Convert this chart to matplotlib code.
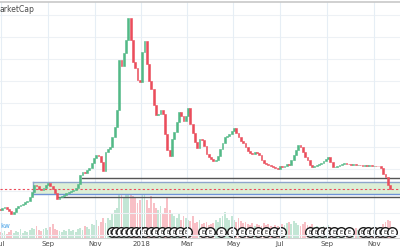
import matplotlib
matplotlib.use("Agg")
import matplotlib.pyplot as plt
import matplotlib.dates as mdates
import pandas as pd
import numpy as np

# 3-day candles, total market cap (approx, billions)
start = "2017-06-30"
closes = [114, 123, 127, 118, 109, 95, 105, 123, 132, 136,
          141, 150, 155, 173, 195, 227, 223, 209, 205, 214,
          227, 236, 223, 209, 191, 164, 173, 177, 182, 191,
          195, 200, 205, 214, 232, 273, 286, 282, 295, 305,
          327, 350, 364, 359, 332, 291, 377, 391, 400, 445,
          491, 568, 795, 770, 827, 886, 986, 886, 786, 759,
          705, 695, 832, 882, 777, 700, 664, 591, 545, 550,
          568, 550, 459, 386, 359, 436, 468, 514, 559, 541,
          518, 541, 577, 505, 464, 423, 395, 436, 432, 405,
          368, 355, 345, 336, 341, 359, 391, 418, 445, 450,
          459, 473, 486, 464, 445, 427, 418, 400, 382, 373,
          370, 377, 373, 364, 341, 327, 323, 318, 314, 309,
          305, 300, 314, 309, 314, 323, 318, 341, 364, 386,
          409, 400, 377, 355, 341, 318, 309, 314, 318, 323,
          327, 336, 345, 355, 332, 309, 311, 314, 318, 323,
          327, 323, 321, 318, 322, 318, 319, 317, 315, 318,
          314, 316, 313, 315, 314, 312, 305, 277, 264, 227,
          209]
first_open = 118

volumes = [6, 5, 7, 4, 6, 8, 5, 7, 6, 9, 5, 7, 6, 8, 10,
           9, 12, 8, 7, 9, 10, 8, 11, 14, 9, 8, 7, 6, 8, 7, 9,
           7, 8, 6, 9, 10, 8, 12, 11, 9, 14, 13, 18, 12, 16, 20,
           15, 20, 18, 25, 28, 30, 45, 50, 40, 55, 48,
           52, 42, 40, 35, 38, 55, 45, 38, 30, 42,
           35, 30, 28, 32, 25, 30, 40, 28, 24, 22, 20, 25, 18, 22,
           20, 18, 17, 22, 15, 16, 18, 14, 15, 16, 13, 14, 15, 18, 16, 20, 22, 26, 20, 18,
           22, 18, 16, 20, 17, 15, 16, 14, 13, 15, 12, 14, 13, 12, 15, 13, 14, 12, 11, 13,
           12, 11, 14, 13, 15, 16, 14, 17, 15, 13, 12, 14, 16, 13, 12, 14, 11, 12, 10, 11,
           12, 10, 13, 11, 9, 10, 8, 9, 10, 8, 7, 9, 8, 9, 10, 8, 7, 9, 8, 7,
           8, 7, 9, 8, 7, 8, 14, 16, 18, 17]

event_dates = ["2017-11-23", "2017-11-29", "2017-12-06", "2017-12-12", "2017-12-19",
               "2017-12-25", "2017-12-31", "2018-01-06", "2018-01-14", "2018-01-20",
               "2018-01-28", "2018-02-05", "2018-02-13", "2018-02-20", "2018-03-01",
               "2018-03-23", "2018-04-01", "2018-04-15", "2018-04-29", "2018-05-12",
               "2018-05-23", "2018-06-02", "2018-06-13", "2018-06-23", "2018-07-03",
               "2018-08-09", "2018-08-17", "2018-08-25", "2018-09-02", "2018-09-10",
               "2018-09-19", "2018-09-29", "2018-10-17", "2018-10-24", "2018-11-01",
               "2018-11-09", "2018-11-16", "2018-11-25"]

month_ticks = ["2017-07-01", "2017-09-01", "2017-11-01", "2018-01-01", "2018-03-01",
               "2018-05-01", "2018-07-01", "2018-09-01", "2018-11-01"]
month_labels = ["Jul", "Sep", "Nov", "2018", "Mar", "May", "Jul", "Sep", "Nov"]

# drawn levels
zone_lo, zone_hi, zone_start = 186, 241, "2017-08-12"
level_top, level_top_start = 259, "2017-10-15"
level_low, level_low_start = 173, "2017-09-14"
last_price = 209

GREEN = "#53b987"
RED = "#eb4d5c"

dates = pd.date_range(start, periods=len(closes), freq="3D")
x = mdates.date2num(dates)
opens = np.array([first_open] + closes[:-1])
cl = np.array(closes)
up = cl >= opens
cols = np.where(up, GREEN, RED)

fig = plt.figure(figsize=(4, 2.5), dpi=100)
ax2 = fig.add_axes([0, 0.048, 1, 0.944])
ax = fig.add_axes([0, 0.048, 1, 0.944], sharex=ax2)
ax.set_zorder(2)
ax.patch.set_visible(False)

x0 = mdates.date2num(pd.Timestamp("2017-07-01"))
ax.set_xlim(x0 - 0.8, x0 + 522)
ax.set_ylim(-13.6, 1059)

# grid
for v in range(0, 1001, 100):
    ax.axhline(v, color="#edf1f5", lw=0.8, zorder=0)
for d in month_ticks:
    ax.axvline(mdates.date2num(pd.Timestamp(d)), color="#e6eef5", lw=0.8, zorder=0)

# volume
ax2.bar(x, volumes, width=2.4, color=cols, alpha=0.35, lw=0)
ax2.set_ylim(0, 236)
ex = mdates.date2num(pd.to_datetime(event_dates))
ax2.scatter(ex, [6] * len(ex), s=48, facecolor="white", edgecolor="#1a1a1a", lw=1.0, zorder=5)
for e in ex:
    ax2.text(e, 6, "E", fontsize=3.5, ha="center", va="center", color="#1a1a1a", zorder=6)
ax2.axis("off")

# levels and zone
xr = x0 + 530
zs = mdates.date2num(pd.Timestamp(zone_start))
ax.fill_between([zs, xr], zone_lo, zone_hi, color="#dcefd6", zorder=1, lw=0)
ax.plot([zs, xr], [zone_hi, zone_hi], color="#8ea6cc", lw=1, zorder=1.5)
ax.plot([zs, xr], [zone_lo, zone_lo], color="#6f93d6", lw=1, zorder=1.5)
ax.plot([zs, zs], [zone_lo, zone_hi], color="#8ea6cc", lw=1, zorder=1.5)
ax.plot([mdates.date2num(pd.Timestamp(level_top_start)), xr], [level_top] * 2,
        color="#555555", lw=1, zorder=1.5)
ax.plot([mdates.date2num(pd.Timestamp(level_low_start)), xr], [level_low] * 2,
        color="#555555", lw=1, zorder=1.5)
ax.axhline(last_price, color=RED, lw=0.8, ls=(0, (2, 2)), zorder=1.6)

# candles
lo = np.minimum(opens, cl)
hi = np.maximum(opens, cl)
ax.bar(x, hi - lo, bottom=lo, width=2.4, color=cols, edgecolor=cols, lw=0.4, zorder=3)

ax.set_xticks(mdates.date2num(pd.to_datetime(month_ticks)))
ax.set_xticklabels(month_labels, fontsize=5, color="#4a4a4a")
ax.tick_params(axis="x", length=0, pad=2.5)
ax.set_yticks([])
for s in ["left", "right"]:
    ax.spines[s].set_visible(False)
ax.spines["top"].set_color("#c8c8c8")
ax.spines["top"].set_linewidth(1.2)
ax.spines["bottom"].set_color("#d0d0d0")
ax.spines["bottom"].set_linewidth(0.8)

fig.text(0.0, 0.963, "arketCap", fontsize=5.5, color="#4a4a4a", ha="left", va="center")
fig.text(0.0, 0.096, "kw", fontsize=5, color="#4aa3e8", ha="left", va="center")

fig.savefig("out.png", dpi=100)
